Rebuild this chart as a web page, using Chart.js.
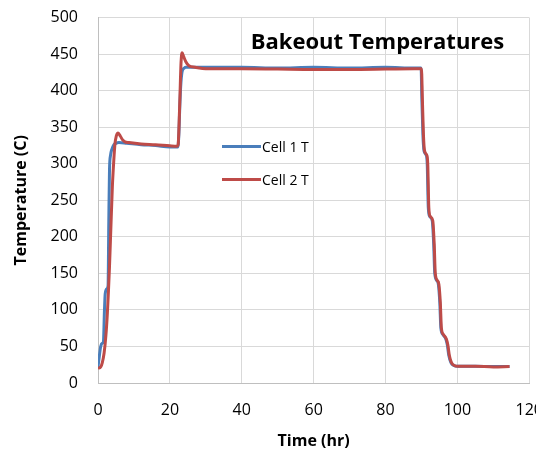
<!DOCTYPE html>
<html><head><meta charset="utf-8">
<script src="https://cdn.jsdelivr.net/npm/chart.js@4"></script>
<style>html,body{margin:0;padding:0;overflow:hidden;background:#fff;width:536px;height:451px}canvas{display:block}</style>
</head><body>
<canvas id="c" width="561" height="451"></canvas>
<script>
const chartTitle = "Bakeout Temperatures";
const xTitle = "Time (hr)";
const yTitle = "Temperature (C)";
const seriesNames = ["Cell 1 T", "Cell 2 T"];

const timeCell1 = [0,0.4,0.75,1.1,1.5,1.8,2.0,2.5,2.8,3.0,3.2,3.5,3.8,4.4,5.0,5.8,8,12,16,20,22.2,22.5,22.7,23.0,23.4,24.0,24.4,30,40,50,60,70,80,88,89.9,90.1,90.4,90.7,91.3,91.6,91.9,92.3,93.0,93.4,93.7,94.3,94.7,95.1,95.4,96.0,96.8,97.2,97.6,98.2,99.0,100,105,110,114.5];
const cell1 =     [22,38,50,54,56,100,122,129,133,220,292,312,319,326,328,329,328,326,325,323,323,340,370,405,426,431,432,432,432,431,432,431,432,431,431,390,340,318,312,300,240,228,222,190,150,140,135,110,75,66,60,52,38,28,24,23,23,22.5,22.5];

const timeCell2 = [0,0.75,1.2,1.7,2.2,2.6,2.9,3.2,3.6,4.0,4.4,4.7,5.1,5.6,6.2,6.8,7.5,8.6,12,16,20,22.0,22.3,22.5,22.8,23.1,23.4,23.8,24.4,25.3,27,30,40,50,60,70,80,88,90.0,90.25,90.55,90.85,91.45,91.75,92.05,92.45,93.15,93.55,93.85,94.45,94.85,95.25,95.55,96.15,96.95,97.35,97.75,98.35,99.15,100.2,105,110,114.5];
const cell2 =     [20,22,28,41,65,95,125,159,215,269,305,326,338,342,338,333,330,329,327,326,324.5,324,326,346,392,438,452,447,440,434,432,430,430,429.5,429,429,429.5,430,430,390,340,318,312,300,240,228,222,190,150,140,135,110,75,66,60,52,38,28,24,23,23,22,22.5];

const xTicks = [0,20,40,60,80,100,120];
const yTicks = [0,50,100,150,200,250,300,350,400,450,500];

const colors = ["#4A7EBB", "#BE4B48"];
const FONT = "'Open Sans', sans-serif";

function pts(t, v){ return t.map((x,i)=>({x:x, y:v[i]})); }

const decor = {
  id:'decor',
  afterDatasetsDraw(chart){
    const ctx = chart.ctx, a = chart.chartArea;
    ctx.save();
    ctx.fillStyle = '#000';
    ctx.font = "bold 22px " + FONT;
    ctx.textAlign = 'right';
    ctx.textBaseline = 'middle';
    ctx.fillText(chartTitle, a.right - 25, a.top + 25);
    ctx.font = "14px " + FONT;
    ctx.textAlign = 'left';
    const ly = [a.top + 129, a.top + 162];
    seriesNames.forEach((n,i)=>{
      ctx.strokeStyle = colors[i];
      ctx.lineWidth = 3;
      ctx.beginPath();
      ctx.moveTo(a.left + 124, ly[i]);
      ctx.lineTo(a.left + 163, ly[i]);
      ctx.stroke();
      ctx.fillText(n, a.left + 164, ly[i] + 1);
    });
    ctx.restore();
  }
};

new Chart(document.getElementById('c'), {
  type:'line',
  data:{ datasets:[
    {label:seriesNames[0], data:pts(timeCell1,cell1), borderColor:colors[0], borderWidth:3, pointRadius:0, cubicInterpolationMode:'monotone', fill:false, order:2},
    {label:seriesNames[1], data:pts(timeCell2,cell2), borderColor:colors[1], borderWidth:3, pointRadius:0, cubicInterpolationMode:'monotone', fill:false, order:1}
  ]},
  options:{
    responsive:false, animation:false, devicePixelRatio:1,
    layout:{padding:{top:0,left:0,right:0,bottom:0}},
    plugins:{legend:{display:false}, title:{display:false}, tooltip:{enabled:false}},
    scales:{
      x:{ type:'linear', min:0, max:120,
        afterBuildTicks(s){ s.ticks = xTicks.map(v=>({value:v})); },
        afterFit(s){ s.height = 68; },
        grid:{color:'#d9d9d9', lineWidth:1, drawTicks:false},
        border:{color:'#bfbfbf', width:1},
        ticks:{color:'#000', font:{family:FONT, size:16}, padding:18, maxRotation:0},
        title:{display:true, text:xTitle, color:'#000', font:{family:FONT, size:16, weight:'bold'}, padding:{top:0,bottom:0}}
      },
      y:{ min:0, max:500,
        afterBuildTicks(s){ s.ticks = yTicks.map(v=>({value:v})); },
        afterFit(s){ s.width = 98; },
        grid:{color:'#d9d9d9', lineWidth:1, drawTicks:true, tickLength:12, tickColor:'rgba(0,0,0,0)'},
        border:{color:'#bfbfbf', width:1},
        ticks:{color:'#000', font:{family:FONT, size:16}, padding:8},
        title:{display:true, text:yTitle, color:'#000', font:{family:FONT, size:16, weight:'bold'}, padding:{top:12,bottom:0}}
      }
    }
  },
  plugins:[decor]
});
</script>
</body></html>
